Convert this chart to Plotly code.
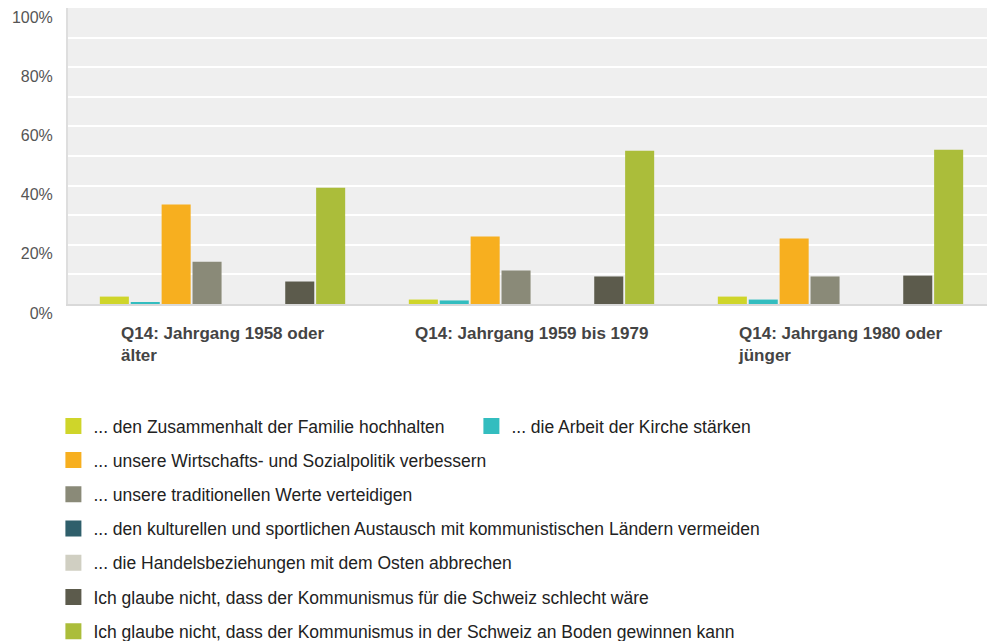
import plotly.graph_objects as go

categories = ["Q14: Jahrgang 1958 oder älter", "Q14: Jahrgang 1959 bis 1979", "Q14: Jahrgang 1980 oder jünger"]
category_labels = ["Q14: Jahrgang 1958 oder<br>älter", "Q14: Jahrgang 1959 bis 1979", "Q14: Jahrgang 1980 oder<br>jünger"]

series_names = [
    "... den Zusammenhalt der Familie hochhalten",
    "... die Arbeit der Kirche stärken",
    "... unsere Wirtschafts- und Sozialpolitik verbessern",
    "... unsere traditionellen Werte verteidigen",
    "... den kulturellen und sportlichen Austausch mit kommunistischen Ländern vermeiden",
    "... die Handelsbeziehungen mit dem Osten abbrechen",
    "Ich glaube nicht, dass der Kommunismus für die Schweiz schlecht wäre",
    "Ich glaube nicht, dass der Kommunismus in der Schweiz an Boden gewinnen kann",
]

familie = [0.025, 0.015, 0.025]
kirche = [0.005, 0.012, 0.015]
wirtschaft = [0.336, 0.228, 0.221]
werte = [0.143, 0.113, 0.093]
austausch = [0.0, 0.0, 0.0]
handel = [0.0, 0.0, 0.0]
nicht_schlecht = [0.076, 0.093, 0.096]
nicht_boden = [0.393, 0.518, 0.521]

series_values = [familie, kirche, wirtschaft, werte, austausch, handel, nicht_schlecht, nicht_boden]
colors = ["#cfd52a", "#33bdbf", "#f7af1f", "#8a8a78", "#2f5f6b", "#d0cfc2", "#5c5b4c", "#abbd3a"]

y_tickvals = [0, 0.2, 0.4, 0.6, 0.8, 1.0]

FONT = "Liberation Sans, Arial, sans-serif"
W, H = 987, 633

fig = go.Figure()
for name, vals, col in zip(series_names, series_values, colors):
    fig.add_trace(go.Bar(x=categories, y=vals, name=name, marker=dict(color=col, line=dict(width=0)),
                         showlegend=False))

# legend entries (square swatches)
for i, (name, col) in enumerate(zip(series_names, colors)):
    fig.add_trace(go.Scatter(x=[None], y=[None], mode="markers", name=name,
                             marker=dict(symbol="square", size=16, color=col),
                             legend="legend" if i < 2 else "legend2",
                             legendgroup=f"g{i}", showlegend=True))

for cat, lab in zip(categories, category_labels):
    fig.add_annotation(x=cat, y=0, xref="x", yref="y", text=f"<b>{lab}</b>", showarrow=False,
                       xanchor="center", yanchor="top", align="left", yshift=-18,
                       font=dict(family=FONT, size=17, color="#444444"))

fig.update_layout(
    width=W, height=H,
    margin=dict(l=60, r=0, t=0, b=337, autoexpand=False),
    paper_bgcolor="white", plot_bgcolor="#efefef",
    barmode="group", bargap=0.2, bargroupgap=0.06,
    font=dict(family=FONT, size=17, color="#222222"),
    xaxis=dict(showticklabels=False, showgrid=False, showline=True, linecolor="#d9d9d9", linewidth=2,
               ticks="", zeroline=False),
    yaxis=dict(range=[0, 1.0001], tickvals=y_tickvals, tickformat=".0%", showgrid=True, gridcolor="white",
               gridwidth=2, showline=True, linecolor="#dedede", linewidth=2, zeroline=False, ticks="",
               tickfont=dict(family=FONT, size=16, color="#555555"), ticklabelstandoff=10,
               ticklabelshift=9,
               minor=dict(dtick=0.1, showgrid=True, gridcolor="white", gridwidth=2)),
    legend=dict(orientation="h", xref="container", yref="container", x=0.046, y=1 - 400 / H,
                xanchor="left", yanchor="top", entrywidth=373, entrywidthmode="pixels",
                font=dict(family=FONT, size=17.5, color="#222222"), itemsizing="trace",
                bgcolor="rgba(0,0,0,0)"),
    legend2=dict(orientation="v", xref="container", yref="container", x=0.046, y=1 - 434 / H,
                 xanchor="left", yanchor="top", tracegroupgap=8.5, maxheight=1000,
                 font=dict(family=FONT, size=17.5, color="#222222"), itemsizing="trace",
                 bgcolor="rgba(0,0,0,0)"),
)

fig.write_html("out.html")
